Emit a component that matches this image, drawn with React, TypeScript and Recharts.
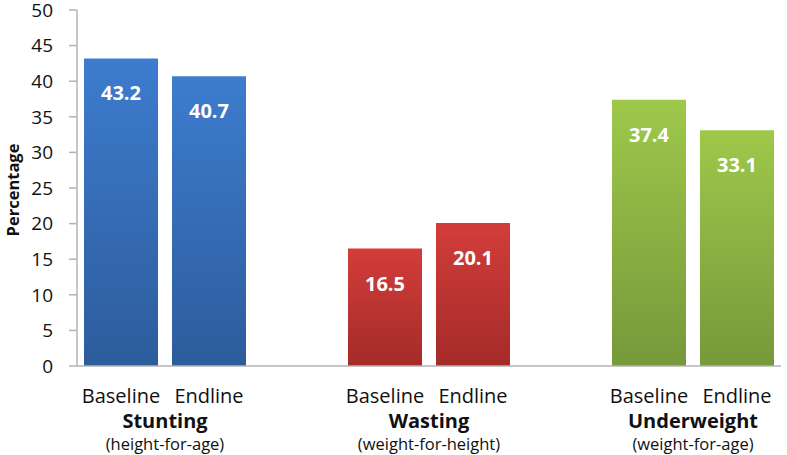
import { Bar, BarChart, Cell, LabelList, XAxis, YAxis } from "recharts";

const groups = ["Stunting", "Wasting", "Underweight"];
const subtitles = ["(height-for-age)", "(weight-for-height)", "(weight-for-age)"];
const phases = ["Baseline", "Endline"];
const baseline = [43.2, 16.5, 37.4];
const endline = [40.7, 20.1, 33.1];
const yTicks = [0, 5, 10, 15, 20, 25, 30, 35, 40, 45, 50];

const gradients = [
  { id: "gBlue", top: "#3d7cce", bottom: "#2d5c9c" },
  { id: "gRed", top: "#d23d3a", bottom: "#a42b29" },
  { id: "gGreen", top: "#9ec84b", bottom: "#76993a" },
];

const WIDTH = 787;
const HEIGHT = 455;
const AXIS_W = 77;
const RIGHT = 6;
const FONT = "'Open Sans', sans-serif";

type Row = {
  key: string;
  phase: string;
  group: number;
  value: number | null;
};

// spacer rows keep the gap between the three groups
const rows: Row[] = [];
groups.forEach((_, g) => {
  rows.push({ key: `b${g}`, phase: phases[0], group: g, value: baseline[g] });
  rows.push({ key: `e${g}`, phase: phases[1], group: g, value: endline[g] });
  if (g < groups.length - 1) {
    rows.push({ key: `s${g}`, phase: "", group: g, value: null });
  }
});

const step = (WIDTH - AXIS_W - RIGHT) / rows.length;

function CategoryTick(props: any) {
  const { x, y, payload } = props;
  const row = rows[payload.index];
  if (!row || !row.phase) return null;
  return (
    <g fontFamily={FONT} fill="#111">
      <text x={x} y={y + 37} textAnchor="middle" fontSize={20}>
        {row.phase}
      </text>
      {row.phase === "Baseline" && (
        <>
          <text
            x={x + step / 2}
            y={y + 62}
            textAnchor="middle"
            fontSize={20}
            fontWeight="bold"
          >
            {groups[row.group]}
          </text>
          <text x={x + step / 2} y={y + 84} textAnchor="middle" fontSize={16.5}>
            {subtitles[row.group]}
          </text>
        </>
      )}
    </g>
  );
}

function ValueLabel(props: any) {
  const { x, y, width, value } = props;
  if (value == null) return null;
  return (
    <text
      x={x + width / 2}
      y={y + 42}
      textAnchor="middle"
      fill="#ffffff"
      fontFamily={FONT}
      fontWeight="bold"
      fontSize={20}
    >
      {value.toFixed(1)}
    </text>
  );
}

function AxisTitle() {
  const cx = 12;
  const cy = 190;
  return (
    <text
      x={cx}
      y={cy}
      transform={`rotate(-90, ${cx}, ${cy})`}
      textAnchor="middle"
      dominantBaseline="central"
      fontFamily={FONT}
      fontWeight="bold"
      fontSize={16.5}
      fill="#111"
    >
      Percentage
    </text>
  );
}

export default function App() {
  return (
    <div style={{ position: "absolute", left: 0, top: 0, background: "#fff" }}>
      <BarChart
        width={WIDTH}
        height={HEIGHT}
        data={rows}
        margin={{ top: 10, right: RIGHT, bottom: 0, left: 0 }}
      >
        <defs>
          {gradients.map((g) => (
            <linearGradient key={g.id} id={g.id} x1="0" y1="0" x2="0" y2="1">
              <stop offset="0%" stopColor={g.top} />
              <stop offset="100%" stopColor={g.bottom} />
            </linearGradient>
          ))}
        </defs>
        <XAxis
          dataKey="key"
          height={89}
          interval={0}
          tickLine={false}
          tickSize={0}
          tickMargin={0}
          axisLine={{ stroke: "#b3b3b3", strokeWidth: 1.5 }}
          tick={<CategoryTick />}
        />
        <YAxis
          width={AXIS_W}
          domain={[0, 50]}
          ticks={yTicks}
          interval={0}
          tickSize={8}
          tickMargin={16}
          axisLine={{ stroke: "#b3b3b3", strokeWidth: 1.5 }}
          tickLine={{ stroke: "#b3b3b3", strokeWidth: 1.5 }}
          tick={{ fill: "#111", fontSize: 19, fontFamily: FONT }}
          label={<AxisTitle />}
        />
        <Bar dataKey="value" barSize={74} isAnimationActive={false}>
          {rows.map((r) => (
            <Cell key={r.key} fill={`url(#${gradients[r.group].id})`} />
          ))}
          <LabelList dataKey="value" content={<ValueLabel />} />
        </Bar>
      </BarChart>
    </div>
  );
}
